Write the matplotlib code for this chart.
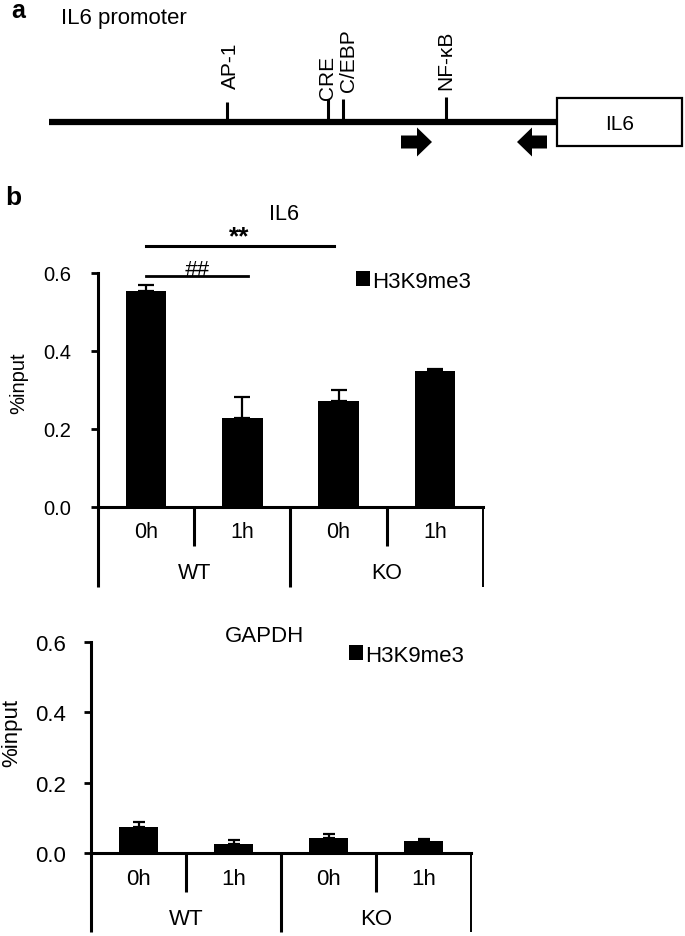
import matplotlib
matplotlib.use("Agg")
import matplotlib.pyplot as plt
import numpy as np

plt.rcParams['font.family'] = ['Liberation Sans', 'DejaVu Sans']

# ---------------- data ----------------
times = ['0h', '1h', '0h', '1h']
groups = ['WT', 'KO']
series_name = 'H3K9me3'

il6_values = [0.555, 0.229, 0.272, 0.349]
il6_err = [0.014, 0.052, 0.028, 0.005]

gapdh_values = [0.075, 0.026, 0.042, 0.033]
gapdh_err = [0.012, 0.011, 0.011, 0.008]

yticks = [0.0, 0.2, 0.4, 0.6]
ytick_labels = ['0.0', '0.2', '0.4', '0.6']

# promoter schematic
site_names = ['AP-1', 'CRE', 'C/EBP', 'NF-κB']
site_pos = [227, 328, 343, 446]

W, H = 685, 937
DPI = 100
fig = plt.figure(figsize=(W / DPI, H / DPI), dpi=DPI)


def fx(px):
    return px / W


def fy(py):
    return 1 - py / H


# ---------------- panel a ----------------
axa = fig.add_axes([0, fy(180), 1, 180 / H])
axa.set_xlim(0, W)
axa.set_ylim(180, 0)
axa.axis('off')
axa.patch.set_alpha(0)

axa.plot([49, 557], [123, 123], color='black', lw=4.5, solid_capstyle='butt')
label_x = [230, 328, 349, 446]
label_bottom = [89, 100, 92, 90]
tick_top = [103, 100, 100, 98]
for name, p, lx, lb, tt in zip(site_names, site_pos, label_x, label_bottom, tick_top):
    axa.plot([p, p], [tt, 125], color='black', lw=2.2, solid_capstyle='butt')
    axa.text(lx, lb, name, rotation=90, ha='center', va='bottom', fontsize=15)

axa.add_patch(plt.Rectangle((557, 99), 125, 48, fill=False, ec='black', lw=1.6))
axa.text(620, 124, 'IL6', ha='center', va='center', fontsize=15)

axa.arrow(401, 143, 31, 0, width=13, head_width=29, head_length=15,
          length_includes_head=True, color='black', lw=0)
axa.arrow(547, 143, -30, 0, width=13, head_width=29, head_length=15,
          length_includes_head=True, color='black', lw=0)

axa.text(11, 18, 'a', fontsize=18, fontweight='bold', ha='left', va='baseline')
axa.text(61, 24, 'IL6 promoter', fontsize=16, ha='left', va='baseline')

fig.text(fx(5), fy(205), 'b', fontsize=19, fontweight='bold', ha='left', va='baseline')


# ---------------- bar charts ----------------
def bar_panel(rect_px, values, errs, title, title_xy, legend_xy, ylab_xy,
              fs_tick, fs_x, capsize, short_px, long_px, lab_px, grp_px, ypad):
    l, r, t, b = rect_px
    ax = fig.add_axes([fx(l), fy(b), fx(r - l), (b - t) / H])
    x = np.arange(len(values))
    bars = ax.bar(x, values, width=0.42, color='black', label=series_name, zorder=2)
    ax.errorbar(x, values, yerr=[np.zeros(len(errs)), errs], fmt='none',
                ecolor='black', elinewidth=1.6, capsize=capsize, capthick=1.6, zorder=1)
    ax.set_xlim(-0.5, len(values) - 0.5)
    ax.set_ylim(0, 0.6)
    ax.set_yticks(yticks)
    ax.set_yticklabels(ytick_labels, fontsize=fs_tick)
    ax.tick_params(axis='y', direction='out', length=5, width=2, pad=ypad)
    ax.set_xticks(x)
    ax.set_xticklabels([])
    ax.tick_params(axis='x', length=0)
    for s in ['top', 'right']:
        ax.spines[s].set_visible(False)
    for s in ['left', 'bottom']:
        ax.spines[s].set_linewidth(2.2)
    ax.patch.set_alpha(0)

    hpx = b - t
    tr = ax.get_xaxis_transform()
    # separators
    for xs in [0.5, 2.5]:
        ax.plot([xs, xs], [0, -short_px / hpx], transform=tr, color='black',
                lw=2.2, clip_on=False, solid_capstyle='butt')
    for xs, lw in [(-0.5, 2.2), (1.5, 2.2), (3.5, 1.4)]:
        ax.plot([xs, xs], [0, -long_px / hpx], transform=tr, color='black',
                lw=lw, clip_on=False, solid_capstyle='butt')
    for xi, lab in zip(x, times):
        ax.text(xi, -lab_px / hpx, lab, transform=tr, ha='center', va='center', fontsize=fs_x)
    for gi, g in enumerate(groups):
        ax.text(0.5 + 2 * gi, -grp_px / hpx, g, transform=tr, ha='center', va='center', fontsize=fs_x)

    fig.text(fx(title_xy[0]), fy(title_xy[1]), title, ha='center', va='center', fontsize=fs_x)
    fig.text(fx(ylab_xy[0]), fy(ylab_xy[1]), '%input', rotation=90, ha='center',
             va='center', fontsize=fs_tick)
    ax.legend(handles=[bars], loc='center left',
              bbox_to_anchor=(fx(legend_xy[0]), fy(legend_xy[1])),
              bbox_transform=fig.transFigure, frameon=False, fontsize=16,
              handlelength=0.62, handleheight=0.62, handletextpad=0.12,
              borderpad=0, borderaxespad=0)
    return ax


ax1 = bar_panel((98, 483, 274, 508), il6_values, il6_err, 'IL6', (284, 214),
                (356, 282), (19, 383), 14.5, 15.5, 6, 39, 80, 25, 66, 14)
ax2 = bar_panel((91, 471, 643, 854), gapdh_values, gapdh_err, 'GAPDH', (265, 637),
                (349, 656), (12, 733), 16, 16, 4.5, 39, 79, 26, 66, 13)

# significance marks (IL6)
ax1.plot([0.0, 1.95], [0.670, 0.670], color='black', lw=2.2, clip_on=False)
ax1.text(0.97, 0.695, '**', ha='center', va='center', fontsize=19, fontweight='bold')
ax1.plot([0.0, 1.06], [0.593, 0.593], color='black', lw=2.0, clip_on=False)
ax1.text(0.53, 0.594, '##', ha='center', va='baseline', fontsize=16, style='italic')

fig.savefig('out.png', dpi=DPI)
